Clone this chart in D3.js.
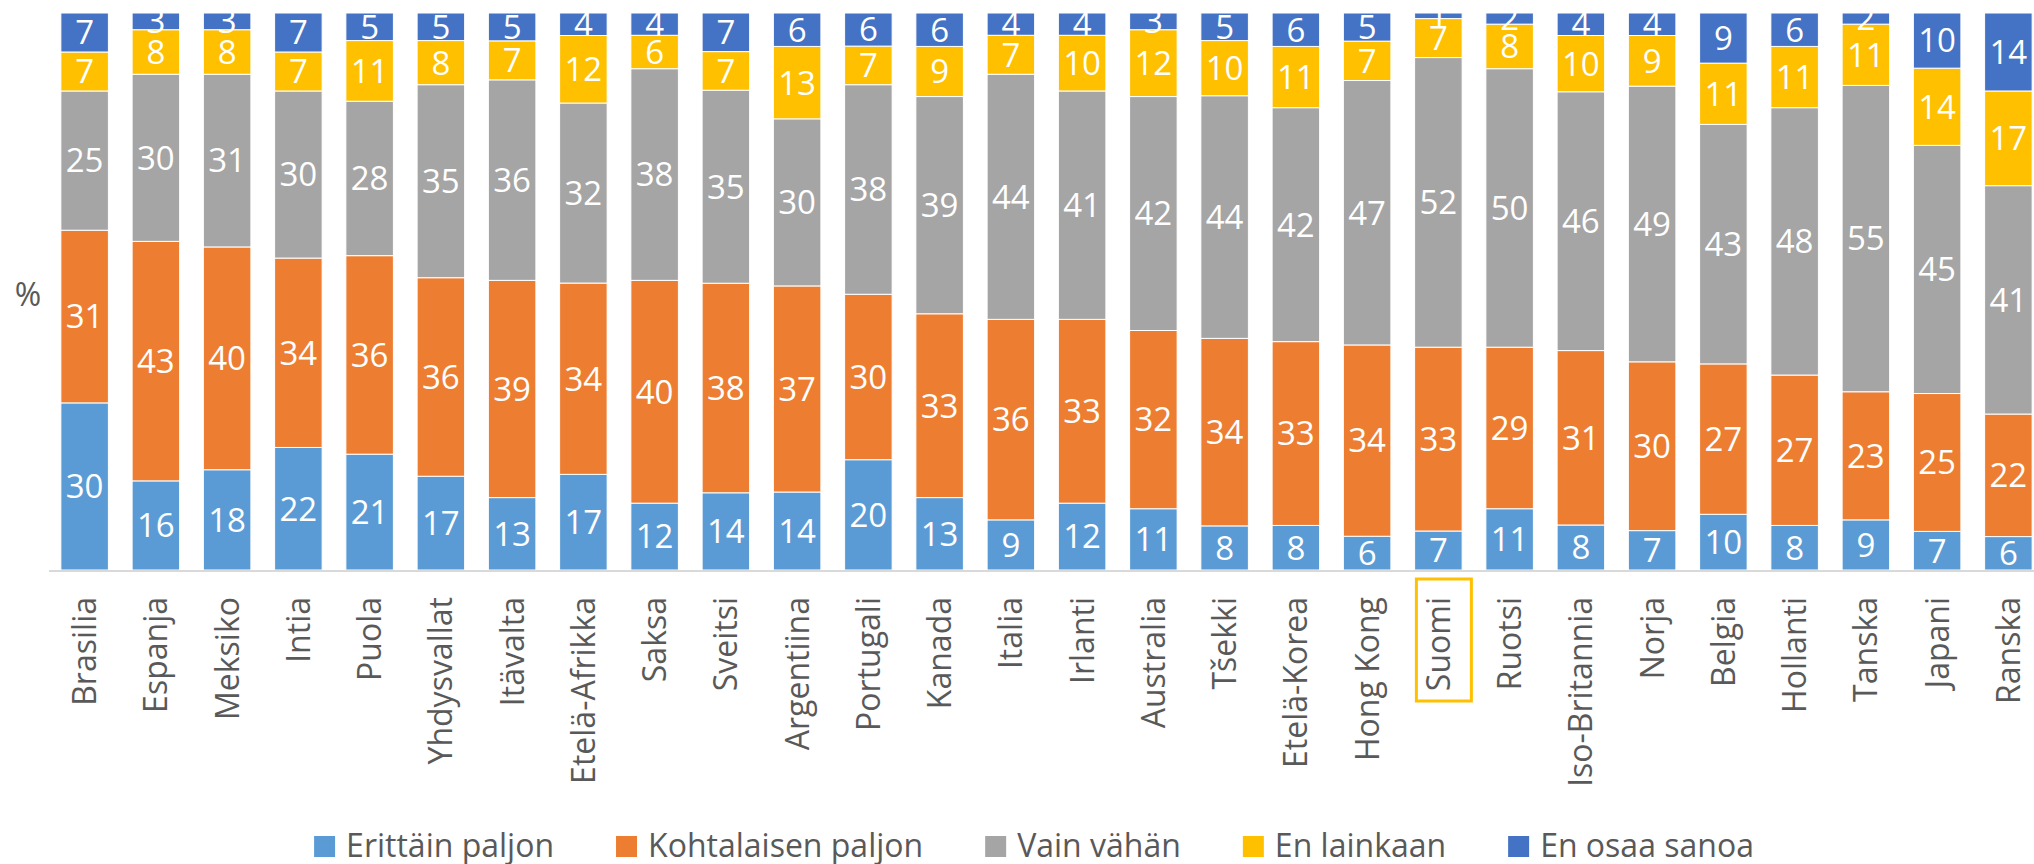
<!DOCTYPE html>
<html>
<head>
<meta charset="utf-8">
<script src="https://cdn.jsdelivr.net/npm/d3@7"></script>
<style>
  body { margin: 0; background: #fff; }
  text { font-family: "Open Sans", "DejaVu Sans", sans-serif; }
</style>
</head>
<body>
<div id="root"></div>
<script>
"use strict";

var countries = ["Brasilia", "Espanja", "Meksiko", "Intia", "Puola", "Yhdysvallat", "Itävalta",
    "Etelä-Afrikka", "Saksa", "Sveitsi", "Argentiina", "Portugali", "Kanada", "Italia", "Irlanti",
    "Australia", "Tšekki", "Etelä-Korea", "Hong Kong", "Suomi", "Ruotsi", "Iso-Britannia", "Norja",
    "Belgia", "Hollanti", "Tanska", "Japani", "Ranska"];

var seriesNames = ["Erittäin paljon", "Kohtalaisen paljon", "Vain vähän", "En lainkaan", "En osaa sanoa"];
var seriesColors = ["#5B9BD5", "#ED7D31", "#A5A5A5", "#FFC000", "#4472C4"];

var erittain    = [30, 16, 18, 22, 21, 17, 13, 17, 12, 14, 14, 20, 13, 9, 12, 11, 8, 8, 6, 7, 11, 8, 7, 10, 8, 9, 7, 6];
var kohtalaisen = [31, 43, 40, 34, 36, 36, 39, 34, 40, 38, 37, 30, 33, 36, 33, 32, 34, 33, 34, 33, 29, 31, 30, 27, 27, 23, 25, 22];
var vainVahan   = [25, 30, 31, 30, 28, 35, 36, 32, 38, 35, 30, 38, 39, 44, 41, 42, 44, 42, 47, 52, 50, 46, 49, 43, 48, 55, 45, 41];
var enLainkaan  = [7, 8, 8, 7, 11, 8, 7, 12, 6, 7, 13, 7, 9, 7, 10, 12, 10, 11, 7, 7, 8, 10, 9, 11, 11, 11, 14, 17];
var enOsaa      = [7, 3, 3, 7, 5, 5, 5, 4, 4, 7, 6, 6, 6, 4, 4, 3, 5, 6, 5, 1, 2, 4, 4, 9, 6, 2, 10, 14];

var highlight = "Suomi";

var width = 2034, height = 864;
var plotTop = 13, base = 570;

var svg = d3.select("#root").append("svg")
    .attr("width", width)
    .attr("height", height);

// build rows for d3.stack
var cols = [erittain, kohtalaisen, vainVahan, enLainkaan, enOsaa];
var rows = countries.map(function (c, i) {
    var r = { country: c };
    seriesNames.forEach(function (s, j) { r[s] = cols[j][i]; });
    return r;
});

var stacked = d3.stack()
    .keys(seriesNames)
    .offset(d3.stackOffsetExpand)(rows);

var x = d3.scaleBand()
    .domain(countries)
    .range([49, 2044])
    .paddingInner(0.333)
    .paddingOuter(0.1665);

var y = d3.scaleLinear()
    .domain([0, 1])
    .range([base, plotTop]);

var layers = svg.append("g").selectAll("g")
    .data(stacked)
    .enter().append("g")
    .attr("fill", function (d, i) { return seriesColors[i]; });

layers.selectAll("rect")
    .data(function (d) { return d; })
    .enter().append("rect")
    .attr("x", function (d) { return x(d.data.country); })
    .attr("y", function (d) { return y(d[1]); })
    .attr("width", x.bandwidth())
    .attr("height", function (d) { return y(d[0]) - y(d[1]); })
    .attr("stroke", "#fff")
    .attr("stroke-width", 1);

// value labels
layers.selectAll("text")
    .data(function (d) { return d.map(function (p) { p.key = d.key; return p; }); })
    .enter().append("text")
    .attr("x", function (d) { return x(d.data.country) + x.bandwidth() / 2; })
    .attr("y", function (d) { return (y(d[0]) + y(d[1])) / 2; })
    .attr("dy", "0.36em")
    .attr("text-anchor", "middle")
    .attr("fill", "#fff")
    .style("font-size", "33px")
    .text(function (d) { return d.data[d.key]; });

// x axis
var xAxis = svg.append("g")
    .attr("transform", "translate(0," + (base + 1) + ")")
    .call(d3.axisBottom(x).tickSize(0).tickPadding(0));

xAxis.select(".domain")
    .attr("d", "M49,0H2034")
    .attr("stroke", "#D9D9D9")
    .attr("stroke-width", 2);

xAxis.selectAll(".tick text")
    .attr("transform", "translate(0,26) rotate(-90)")
    .attr("x", 0)
    .attr("y", 0)
    .attr("dy", "0.36em")
    .attr("text-anchor", "end")
    .attr("fill", "#595959")
    .style("font-size", "32px")
    .style("font-family", "'Open Sans', sans-serif");

// box around the highlighted country
var hx = x(highlight) + x.bandwidth() / 2;
svg.append("rect")
    .attr("x", hx - 22)
    .attr("y", 579)
    .attr("width", 55)
    .attr("height", 122)
    .attr("fill", "none")
    .attr("stroke", "#FFC000")
    .attr("stroke-width", 3);

// y label
svg.append("text")
    .attr("x", 28)
    .attr("y", 294)
    .attr("dy", "0.36em")
    .attr("text-anchor", "middle")
    .attr("fill", "#595959")
    .style("font-size", "32px")
    .text("%");

// legend
var legend = svg.append("g");
var items = legend.selectAll("g")
    .data(seriesNames)
    .enter().append("g");

items.append("rect")
    .attr("width", 21)
    .attr("height", 21)
    .attr("y", 836)
    .attr("fill", function (d, i) { return seriesColors[i]; });

items.append("text")
    .attr("x", 32)
    .attr("y", 857)
    .attr("fill", "#595959")
    .style("font-size", "32px")
    .text(function (d) { return d; });

var gap = 62, widths = [];
items.each(function () {
    widths.push(32 + d3.select(this).select("text").node().getComputedTextLength());
});
var total = d3.sum(widths) + gap * (widths.length - 1);
var cx = 1034 - total / 2;
items.attr("transform", function (d, i) {
    var off = cx;
    cx += widths[i] + gap;
    return "translate(" + off + ",0)";
});
</script>
</body>
</html>
